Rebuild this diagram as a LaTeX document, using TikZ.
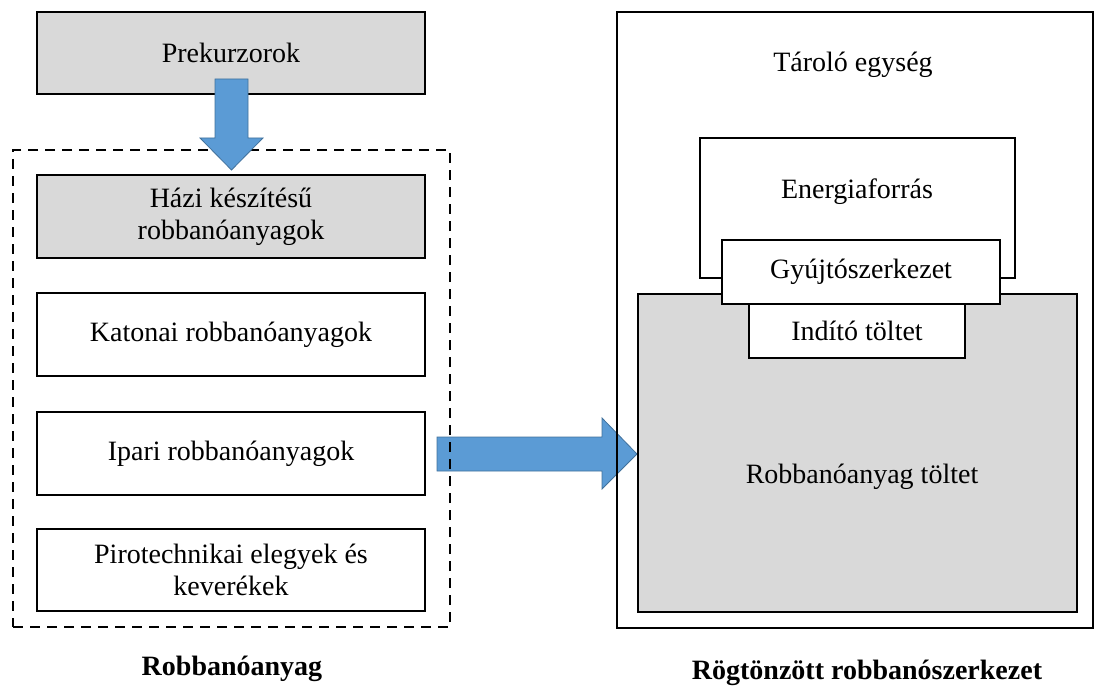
\documentclass[tikz,border=0pt]{standalone}
\usepackage{fontspec}
\setmainfont{Liberation Serif}
\definecolor{boxgray}{HTML}{D9D9D9}
\definecolor{arrowblue}{HTML}{5B9BD5}
\definecolor{arrowedge}{HTML}{41719C}
\tikzset{
  box/.style={draw=black, line width=2.7pt, rectangle, inner sep=0pt, align=center,
              font=\fontsize{28}{32}\selectfont},
  graybox/.style={box, fill=boxgray},
  whitebox/.style={box, fill=white},
  txt/.style={inner sep=0pt, align=center, font=\fontsize{28}{32}\selectfont},
  caption/.style={inner sep=0pt, font=\fontsize{28}{32}\selectfont\bfseries},
  group/.style={draw=black, line width=2.3pt, dash pattern=on 10pt off 7pt},
  blockarrow/.style={fill=arrowblue, draw=arrowedge, line width=0.8pt, line join=miter},
}
\begin{document}
\begin{tikzpicture}[x=1pt,y=-1pt]
\useasboundingbox (0,0) rectangle (1097,687);

% arrow from the explosive group into the device
\draw[blockarrow] (437,437) -- (602,437) -- (602,418) -- (637,454) -- (602,489)
  -- (602,471) -- (437,471) -- cycle;

% ---- left: explosive types ----
\node[graybox, minimum width=388pt, minimum height=82pt] (pre) at (231,53) {Prekurzorok};
\node[group, minimum width=437pt, minimum height=477pt, inner sep=0pt] (grp) at (231.5,388.5) {};
\node[graybox, minimum width=388pt, minimum height=83pt] (hazi) at (231,216.5)
  {Házi készítésű\\robbanóanyagok};
\node[whitebox, minimum width=388pt, minimum height=83pt] (kat) at (231,334.5)
  {Katonai robbanóanyagok};
\node[whitebox, minimum width=388pt, minimum height=83pt] (ipa) at (231,453.5)
  {Ipari robbanóanyagok};
\node[whitebox, minimum width=388pt, minimum height=82pt] (piro) at (231,570)
  {Pirotechnikai elegyek és\\keverékek};
\node[caption] (lbl1) at (232,669) {Robbanóanyag};

% precursors feed the home-made explosives
\draw[blockarrow] (215,79) -- (248,79) -- (248,138) -- (263,138) -- (231.5,170)
  -- (200,138) -- (215,138) -- cycle;

% ---- right: improvised explosive device ----
\node[box, minimum width=476pt, minimum height=616pt] (outer) at (855,320) {};
\node[txt] (tarolo) at (853,65) {Tároló egység};
\node[graybox, minimum width=439pt, minimum height=318pt] (charge) at (857.5,453) {};
\node[txt] (chargetxt) at (862,477) {Robbanóanyag töltet};
\node[whitebox, minimum width=315pt, minimum height=140pt] (energy) at (857.5,208) {};
\node[txt] (energytxt) at (857,192) {Energiaforrás};
\node[whitebox, minimum width=278pt, minimum height=64pt] (fuze) at (861,272) {Gyújtószerkezet};
\node[whitebox, minimum width=216pt, minimum height=54pt] (init) at (857,331) {Indító töltet};
\node[caption] (lbl2) at (867,673) {Rögtönzött robbanószerkezet};
\end{tikzpicture}
\end{document}
